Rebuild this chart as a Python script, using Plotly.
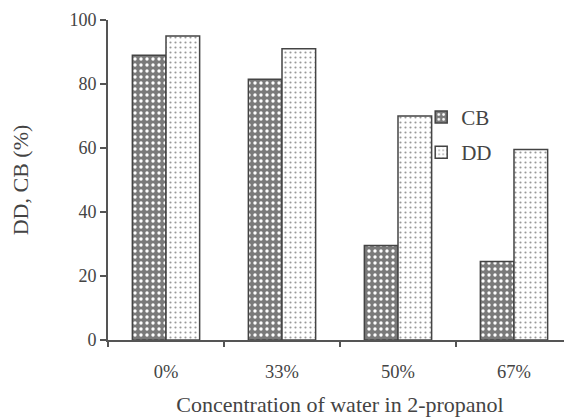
import plotly.graph_objects as go

categories = ["0%", "33%", "50%", "67%"]
cb_values = [89, 81.5, 29.5, 24.5]
dd_values = [95, 91, 70, 59.5]

font_family = "Liberation Serif, Times New Roman, serif"
axis_color = "#555555"
text_color = "#444444"

fig = go.Figure()
fig.add_trace(go.Bar(
    name="CB", x=categories, y=cb_values, legendgroup="cb",
    marker=dict(
        color="#7a7a7a",
        line=dict(color="#444444", width=1.5),
        pattern=dict(shape=".", bgcolor="#7a7a7a", fgcolor="#ffffff", size=6, solidity=0.25, fillmode="replace"),
    ),
))
fig.add_trace(go.Bar(
    name="DD", x=categories, y=dd_values, legendgroup="dd",
    marker=dict(
        color="#ffffff",
        line=dict(color="#444444", width=1.5),
        pattern=dict(shape=".", bgcolor="#ffffff", fgcolor="#999999", size=5, solidity=0.15, fillmode="replace"),
    ),
))

fig.update_layout(
    width=564, height=409,
    margin=dict(l=100, r=0, t=12, b=77, autoexpand=False),
    paper_bgcolor="white", plot_bgcolor="white",
    barmode="group", bargap=0.42, bargroupgap=0,
    font=dict(family=font_family, size=18, color=text_color),
    showlegend=True,
    legend=dict(x=0.675, y=0.76, xanchor="left", yanchor="top",
                font=dict(size=21, color=text_color), bgcolor="rgba(0,0,0,0)",
                itemwidth=30, tracegroupgap=5, traceorder="grouped"),
)
fig.update_xaxes(
    automargin=False,
    showline=True, linecolor=axis_color, linewidth=2,
    ticks="outside", tickson="boundaries", ticklen=5, tickcolor=axis_color, tickwidth=1.5,
    showgrid=False,
    ticklabelstandoff=14,
    title=dict(text="Concentration of water in 2-propanol", font=dict(size=22), standoff=24),
    tickfont=dict(size=18.5),
)
fig.update_yaxes(
    automargin=False,
    range=[0, 100], dtick=20,
    showline=True, linecolor=axis_color, linewidth=2,
    ticks="outside", ticklen=6, tickcolor=axis_color, tickwidth=1.5,
    showgrid=False, zeroline=False,
    title=dict(text="DD, CB (%)", font=dict(size=22), standoff=38),
    tickfont=dict(size=18),
)

fig.write_html("out.html")
